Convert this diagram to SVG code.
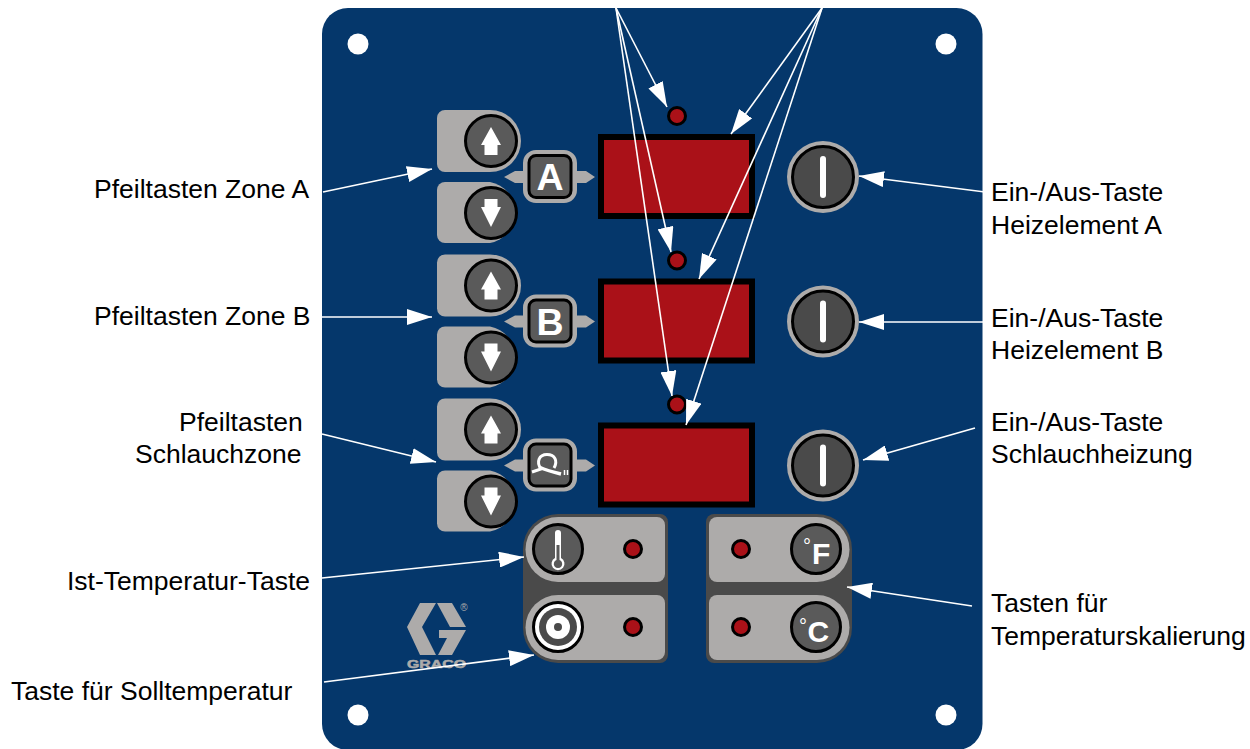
<svg xmlns="http://www.w3.org/2000/svg" xmlns:xlink="http://www.w3.org/1999/xlink" width="1250" height="749" viewBox="0 0 1250 749">
<style>
.lab{font-family:"Liberation Sans",Arial,sans-serif;font-size:26.5px;fill:#000}
.key{fill:#adabaa}
.btn{fill:#5a5a5a;stroke:#000;stroke-width:3}
.ledc{fill:#aa1118;stroke:#000;stroke-width:3}
.ln{stroke:#fff;stroke-width:1.6;fill:none;marker-end:url(#ah)}
.gw{font-family:"Liberation Sans",Arial,sans-serif;font-weight:bold;fill:#fff}
.deg{font-family:"Liberation Sans",Arial,sans-serif;fill:#fff;font-size:20px;text-anchor:middle}
</style>
<defs>
<marker id="ah" markerUnits="userSpaceOnUse" markerWidth="26" markerHeight="16" refX="25" refY="8" orient="auto" viewBox="0 0 26 16"><path d="M0,0L25,8L0,16Z" fill="#fff"/></marker>
<g id="zone">
<path class="key" d="M445,110H490A31,31 0 0 1 490,172H445A8,8 0 0 1 437,164V118A8,8 0 0 1 445,110Z"/>
<path class="key" d="M445,182H490A31,31 0 0 1 490,243H445A8,8 0 0 1 437,235V190A8,8 0 0 1 445,182Z"/>
<circle class="btn" cx="491" cy="141" r="25.500"/>
<circle class="btn" cx="491" cy="213" r="25.500"/>
<path fill="#fff" d="M491,127L501,145H497.500V155H484.500V145H481Z"/>
<path fill="#fff" d="M491,227L501,207H497.500V199H484.500V207H481Z"/>
<path class="key" d="M504,177L515,171H523V163A13,13 0 0 1 536,150H564A13,13 0 0 1 577,163V171H586L595,177L586,183H577V190A13,13 0 0 1 564,203H536A13,13 0 0 1 523,190V183H515Z"/>
<rect class="btn" x="529" y="155.500" width="42" height="42" rx="7"/>
<rect x="598" y="134" width="157" height="85" fill="#000"/>
<rect x="604" y="140" width="145" height="73" fill="#aa1118"/>
<circle class="ledc" cx="677" cy="116" r="8.500"/>
<circle cx="823" cy="177" r="36" class="key"/>
<circle cx="823" cy="177" r="30.500" fill="#4a4a4a" stroke="#000" stroke-width="3"/>
<rect x="820" y="156" width="6" height="42" rx="3" fill="#fff"/>
</g>
</defs>
<rect id="panel" x="322" y="8" width="660.500" height="742" rx="26" fill="#05376b"/>
<g id="holes" fill="#fff"><circle cx="358" cy="44" r="10.500"/><circle cx="946" cy="44" r="10.500"/><circle cx="358" cy="715" r="10.500"/><circle cx="946" cy="715" r="10.500"/></g>
<g id="zone-a"><use xlink:href="#zone" href="#zone"/><text class="gw" x="550" y="190" font-size="37.500" text-anchor="middle">A</text></g>
<g id="zone-b" transform="translate(0,144.500)"><use xlink:href="#zone" href="#zone"/><text class="gw" x="550" y="190" font-size="37.500" text-anchor="middle">B</text></g>
<g id="zone-hose" transform="translate(0,288.500)"><use xlink:href="#zone" href="#zone"/></g>
<g id="hose-icon" fill="none" stroke="#fff" stroke-width="3">
<path d="M532,472L541,469C536,462 539,454.500 547,454.500C555,454.500 558,461 554,468"/>
<path d="M539,467Q548,471 561,474" stroke-width="3.500"/>
<path d="M564.500,470V475M567.500,470V475" stroke-width="1.500"/>
</g>
<g id="temp-left">
<path fill="#4a4a4a" d="M558,514H660A8,8 0 0 1 668,522V655A8,8 0 0 1 660,663H558A35,35 0 0 1 523,628V549A35,35 0 0 1 558,514Z"/>
<path class="key" d="M558,517H657A8,8 0 0 1 665,525V574A8,8 0 0 1 657,582H558A32,32 0 0 1 558,517Z"/>
<path class="key" d="M558,595H657A8,8 0 0 1 665,603V652A8,8 0 0 1 657,660H558A32,32 0 0 1 558,595Z"/>
<circle class="btn" cx="558" cy="549" r="24.500"/>
<path fill="#fff" d="M555,533A3,3 0 0 1 561,533V558A6.500,6.500 0 1 1 555,558Z"/>
<path fill="#5a5a5a" d="M556.500,545H559.500V560A4.200,4.200 0 1 1 556.500,560Z"/>
<circle cx="558" cy="627" r="24.500" fill="#fff" stroke="#000" stroke-width="3"/>
<circle cx="558" cy="627" r="19" fill="#4a4a4a"/>
<circle cx="558" cy="627" r="12" fill="#fff"/>
<circle cx="558" cy="627" r="4" fill="#4a4a4a"/>
<circle class="ledc" cx="633" cy="549" r="8.500"/>
<circle class="ledc" cx="633" cy="627" r="8.500"/>
</g>
<g id="temp-right">
<path fill="#4a4a4a" d="M714,514H817A35,35 0 0 1 852,549V628A35,35 0 0 1 817,663H714A8,8 0 0 1 706,655V522A8,8 0 0 1 714,514Z"/>
<path class="key" d="M717,517H817A32,32 0 0 1 817,582H717A8,8 0 0 1 709,574V525A8,8 0 0 1 717,517Z"/>
<path class="key" d="M717,595H817A32,32 0 0 1 817,660H717A8,8 0 0 1 709,652V603A8,8 0 0 1 717,595Z"/>
<circle class="btn" cx="816" cy="549" r="24.500"/>
<circle class="btn" cx="816" cy="627" r="24.500"/>
<circle class="ledc" cx="741" cy="549" r="8.500"/>
<circle class="ledc" cx="741" cy="627" r="8.500"/>
<text class="gw" x="812" y="563.500" font-size="30">F</text><text class="deg" x="807" y="553">°</text>
<text class="gw" x="807.500" y="642" font-size="30">C</text><text class="deg" x="803" y="633">°</text>
</g>
<g id="logo" fill="#adabaa">
<path d="M420,603H436L422,627L436,655H420L407,627Z"/>
<path d="M437,603H452L466,627H450Z"/>
<path d="M439,630H466L452,655H438L447,638H439Z"/>
<text x="436.500" y="668" font-family="Liberation Sans,Arial,sans-serif" font-weight="bold" font-size="11" stroke="#adabaa" stroke-width="0.5" text-anchor="middle" textLength="59" lengthAdjust="spacingAndGlyphs">GRACO</text>
<text x="464" y="611" font-family="Liberation Sans,Arial,sans-serif" font-size="10" text-anchor="middle">®</text>
</g>
<g id="connectors">
<path class="ln" d="M616,8L667,107"/>
<path class="ln" d="M616,8L671,252"/>
<path class="ln" d="M616,8L672,396"/>
<path class="ln" d="M822,8L731,134"/>
<path class="ln" d="M822,8L699,279"/>
<path class="ln" d="M822,8L686,425"/>
<path class="ln" d="M323,192L432,169"/>
<path class="ln" d="M322,317L432,317"/>
<path class="ln" d="M322,434L436,462"/>
<path class="ln" d="M322,578L524,557"/>
<path class="ln" d="M324,682L534,655"/>
<path class="ln" d="M985,192L859,176"/>
<path class="ln" d="M985,322L859,322"/>
<path class="ln" d="M975,428L863,460"/>
<path class="ln" d="M972,606L847,587"/>
</g>
<g id="labels">
<text class="lab" x="94" y="198">Pfeiltasten Zone A</text>
<text class="lab" x="94" y="325">Pfeiltasten Zone B</text>
<text class="lab" x="179" y="431">Pfeiltasten</text>
<text class="lab" x="135" y="463">Schlauchzone</text>
<text class="lab" x="67" y="590">Ist-Temperatur-Taste</text>
<text class="lab" x="11" y="700">Taste für Solltemperatur</text>
<text class="lab" x="991" y="201">Ein-/Aus-Taste</text>
<text class="lab" x="991" y="234">Heizelement A</text>
<text class="lab" x="991" y="327">Ein-/Aus-Taste</text>
<text class="lab" x="991" y="359">Heizelement B</text>
<text class="lab" x="991" y="431">Ein-/Aus-Taste</text>
<text class="lab" x="991" y="463">Schlauchheizung</text>
<text class="lab" x="991" y="612">Tasten für</text>
<text class="lab" x="991" y="645">Temperaturskalierung</text>
</g>
</svg>
